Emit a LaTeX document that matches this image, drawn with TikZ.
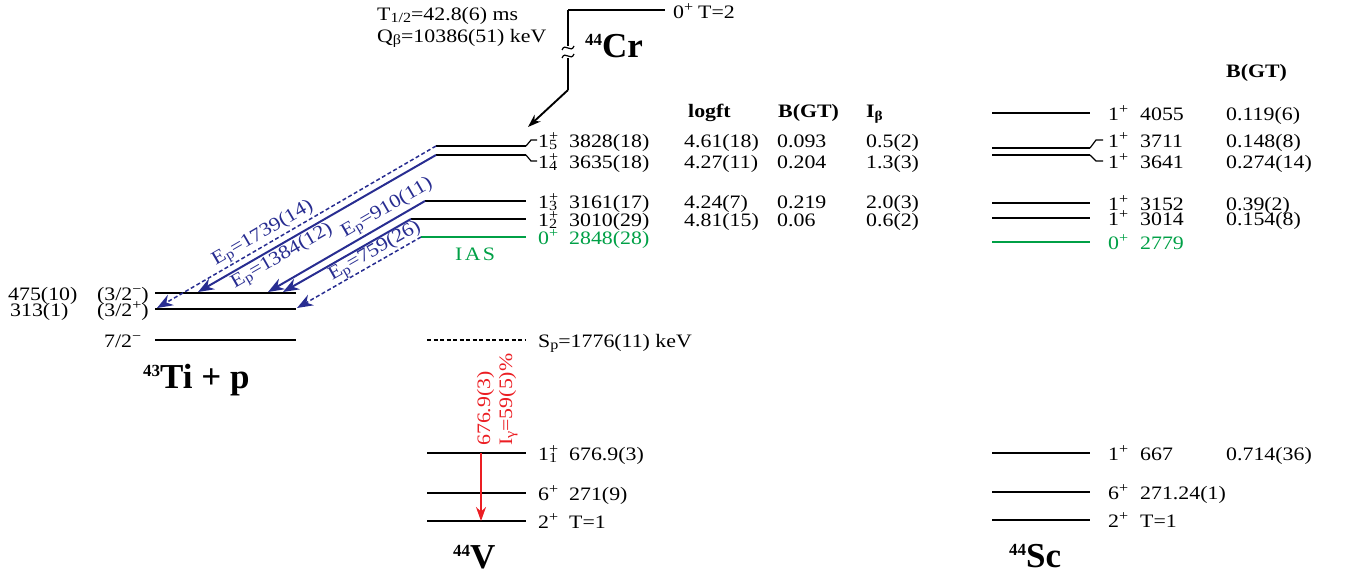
\documentclass[tikz,border=0pt]{standalone}
\usepackage{fontspec}
\setmainfont{Liberation Serif}[FakeStretch=1.15]
\newfontfamily\nucfont{Liberation Serif}
\usetikzlibrary{arrows.meta}
\definecolor{pblue}{RGB}{40,45,145}
\definecolor{iasgreen}{RGB}{0,160,70}
\definecolor{gred}{RGB}{235,30,35}
\newcommand{\upf}[1]{\raisebox{6.5pt}{\fontsize{14}{14}\selectfont #1}}
\newcommand{\dnf}[1]{\raisebox{-2.5pt}{\fontsize{14}{14}\selectfont #1}}
\newcommand{\jp}[2]{#1\rlap{\upf{+}}\dnf{#2}}
\newcommand{\nucl}[2]{\raisebox{12pt}{\fontsize{17}{17}\selectfont #1}#2}

\begin{document}
\begin{tikzpicture}[x=1pt, y=-1pt,
    every node/.style={font=\fontsize{19}{22}\selectfont, inner sep=0pt},
    lab/.style={anchor=base west},
    nuc/.style={anchor=base west, font=\nucfont\fontsize{35}{38}\selectfont\bfseries},
    lvl/.style={line width=1.9pt},
    kink/.style={line width=1.2pt},
    iaslvl/.style={lvl, iasgreen},
    splvl/.style={line width=1.3pt, dash pattern=on 4pt off 2.5pt},
    pline/.style={line width=2pt, pblue, -{Stealth[length=16pt,width=12pt]}},
    pdash/.style={pline, line width=1.5pt, dash pattern=on 4pt off 2.5pt},
    eplab/.style={pblue, sloped},
  ]
\useasboundingbox (0,0) rectangle (1346,579);

% 44Cr parent
\coordinate (cr) at (568,10);
\coordinate (crb) at (568,90);
\draw[lvl] (cr) -- (665,10);
\draw[lvl] (cr) -- (568,46);
\draw[lvl] (568,58) -- (crb);
\draw[kink] (562,50) .. controls (565,42) and (571,54) .. (574,46);
\draw[kink] (562,58) .. controls (565,50) and (571,62) .. (574,54);
\node[lab] (crj) at (673,18) {0\upf{+}};
\node[lab] (crt) at (698,18) {T=2};
\node[lab] (thalf) at (377,20) {T\dnf{1/2}=42.8(6) ms};
\node[lab] (qbeta) at (377,42) {Q\dnf{β}=10386(51) keV};
\node[nuc] (crn) at (585,57) {\nucl{44}{Cr}};

% 44V levels
\coordinate (v5) at (436,146);
\coordinate (v4) at (436,155);
\coordinate (v3) at (425,201);
\coordinate (v2) at (411,219);
\coordinate (vias) at (421,237);
\coordinate (v1) at (481,453);
\coordinate (v0) at (481,521);
\draw[lvl] (v5) -- (526,146);
\draw[kink] (526,146) -- (531,140) -- (537,140);
\draw[lvl] (v4) -- (526,155);
\draw[kink] (526,155) -- (531,161) -- (537,161);
\draw[lvl] (v3) -- (526,201);
\draw[lvl] (v2) -- (526,219);
\draw[iaslvl] (vias) -- (526,237);
\draw[splvl] (427,340) -- (526,340);
\foreach \y in {453,493,521}
  \draw[lvl] (427,\y) -- (526,\y);

\draw[lvl, -{Stealth[length=13pt,width=9pt]}] (crb) -- (528,127);

% 44V labels
\foreach \y/\jv/\en [count=\i] in {140/\jp{1}{5}/3828(18), 161/\jp{1}{4}/3635(18),
    201/\jp{1}{3}/3161(17), 219/\jp{1}{2}/3010(29), 453/\jp{1}{1}/676.9(3),
    493/6\upf{+}/271(9), 521/2\upf{+}/T=1}{
  \node[lab] (vj\i) at (538,\y+7) {\jv};
  \node[lab] (ve\i) at (569,\y+7) {\en};
}
\node[lab, iasgreen] (vjias) at (538,244) {0\upf{+}};
\node[lab, iasgreen] (veias) at (569,244) {2848(28)};
\node[lab, iasgreen, font=\fontsize{19}{22}\selectfont\addfontfeature{LetterSpace=12}] (iasn) at (455,260) {IAS};
\node[lab] (sp) at (538,347) {S\dnf{p}=1776(11) keV};
\node[nuc] (vn) at (453,568) {\nucl{44}{V}};

% table for 44V
\node[lab, font=\fontsize{19}{22}\selectfont\bfseries] (hlf) at (688,117) {logft};
\node[lab, font=\fontsize{19}{22}\selectfont\bfseries] (hbg) at (778,117) {B(GT)};
\node[lab, font=\fontsize{19}{22}\selectfont\bfseries] (hib) at (866,117) {I\textsubscript{β}};
\foreach \y/\lf/\bg/\ib [count=\i] in {140/4.61(18)/0.093/0.5(2), 161/4.27(11)/0.204/1.3(3),
    201/4.24(7)/0.219/2.0(3), 219/4.81(15)/0.06/0.6(2)}{
  \node[lab] (lf\i) at (684,\y+7) {\lf};
  \node[lab] (bg\i) at (777,\y+7) {\bg};
  \node[lab] (ib\i) at (866,\y+7) {\ib};
}

% 43Ti + p
\coordinate (ta) at (157,308);
\coordinate (tb) at (198,292);
\coordinate (tc) at (268,292);
\coordinate (td) at (283,292);
\coordinate (te) at (297,308);
\foreach \y in {293,309,340}
  \draw[lvl] (155,\y) -- (296,\y);
\node[lab] (te1) at (8,300) {475(10)};
\node[lab] (tj1) at (97,300) {(3/2\upf{−})};
\node[lab] (te2) at (10,316) {313(1)};
\node[lab] (tj2) at (97,316) {(3/2\upf{+})};
\node[lab] (tj3) at (104,347) {7/2\upf{−}};
\node[nuc] (tin) at (143,388) {\nucl{43}{Ti + p}};

% proton branches
\draw[pdash] (v5) -- node[eplab, above=1pt, pos=0.6] (ep1) {E\dnf{p}=1739(14)} (ta);
\draw[pline] (v4) -- node[eplab, below=1pt, pos=0.67] (ep2) {E\dnf{p}=1384(12)} (tb);
\draw[pline] (v3) -- node[eplab, above=2pt, pos=0.2] (ep3) {E\dnf{p}=910(11)} (tc);
\draw[pline] (v2) -- (td);
\draw[pdash] (vias) -- node[eplab, above=0pt, pos=0.33] (ep4) {E\dnf{p}=759(26)} (te);

% gamma
\draw[line width=1.8pt, gred, -{Stealth[length=14pt,width=10pt]}] (v1) -- (v0);
\node[gred, rotate=90, anchor=base west] (gle) at (490,446) {676.9(3)};
\node[gred, rotate=90, anchor=base west] (gli) at (512,446) {I\dnf{γ}=59(5)\%};

% 44Sc mirror
\foreach \y in {113,203,218,453,492,520}
  \draw[lvl] (992,\y) -- (1090,\y);
\draw[lvl] (992,148) -- (1090,148);
\draw[kink] (1090,148) -- (1096,140) -- (1103,140);
\draw[lvl] (992,155) -- (1090,155);
\draw[kink] (1090,155) -- (1096,161) -- (1103,161);
\draw[iaslvl] (992,242) -- (1090,242);
\node[lab, font=\fontsize{19}{22}\selectfont\bfseries] (shbg) at (1226,77) {B(GT)};
\foreach \y/\en/\bg [count=\i] in {113/4055/0.119(6), 140/3711/0.148(8), 161/3641/0.274(14),
    203/3152/0.39(2), 218/3014/0.154(8), 453/667/0.714(36)}{
  \node[lab] (sj\i) at (1108,\y+7) {1\upf{+}};
  \node[lab] (se\i) at (1140,\y+7) {\en};
  \node[lab] (sb\i) at (1226,\y+7) {\bg};
}
\node[lab, iasgreen] (sjias) at (1108,249) {0\upf{+}};
\node[lab, iasgreen] (seias) at (1140,249) {2779};
\node[lab] (sj7) at (1108,499) {6\upf{+}};
\node[lab] (se7) at (1140,499) {271.24(1)};
\node[lab] (sj8) at (1108,527) {2\upf{+}};
\node[lab] (se8) at (1140,527) {T=1};
\node[nuc] (scn) at (1009,567) {\nucl{44}{Sc}};
\end{tikzpicture}
\end{document}
